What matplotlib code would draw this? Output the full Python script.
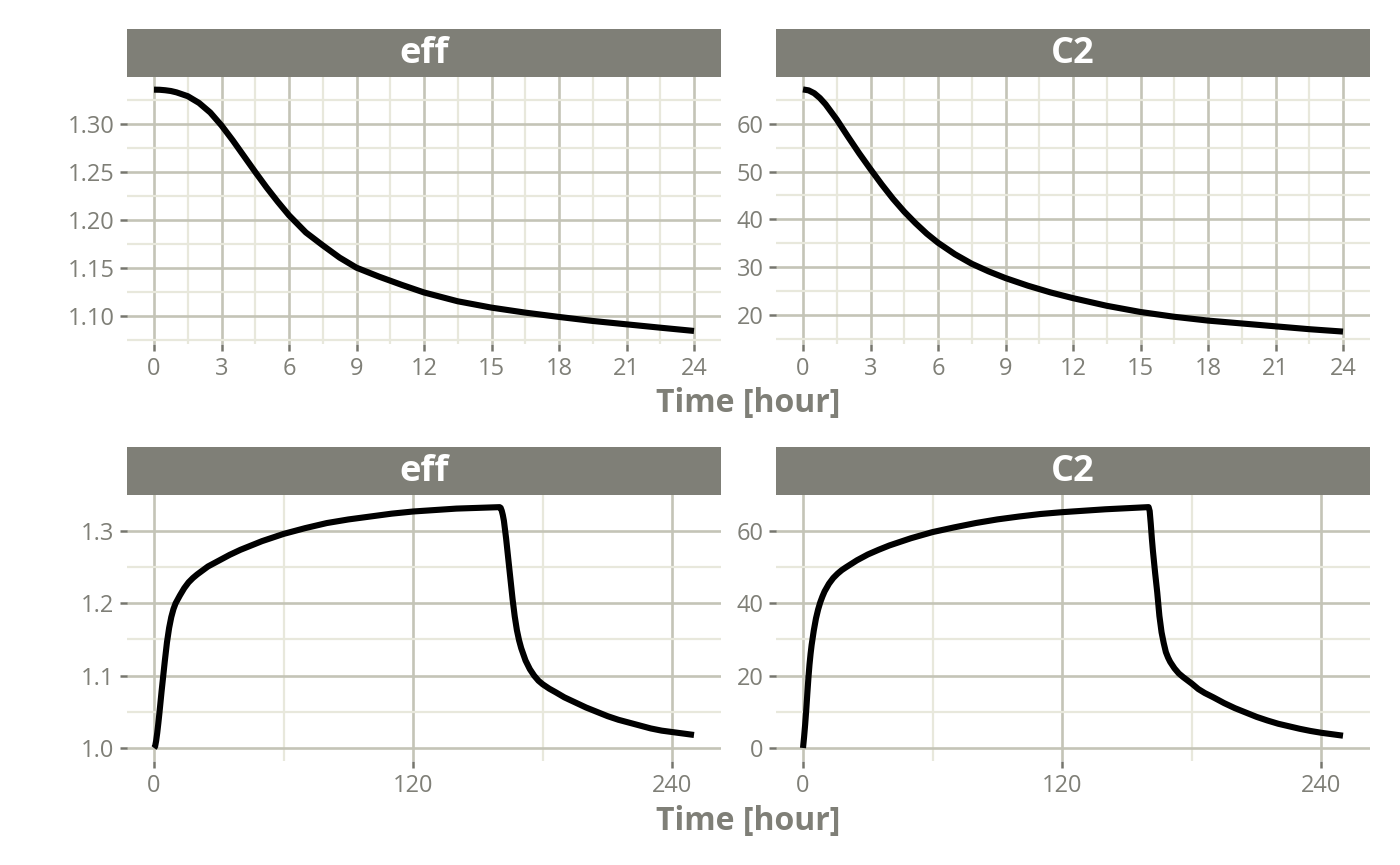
import matplotlib
matplotlib.use('Agg')
import matplotlib.pyplot as plt
from matplotlib.ticker import MultipleLocator, FormatStrFormatter

plt.rcParams['font.family'] = ['Open Sans', 'DejaVu Sans']

# top row: first day (hours)
time_day = [0, 0.25, 0.5, 0.75, 1, 1.5, 2, 2.5, 3, 3.5, 4, 4.5, 5, 5.5, 6,
            6.75, 7.5, 8.25, 9, 10, 11, 12, 13.5, 15, 16.5, 18, 19.5, 21,
            22.5, 24]
eff_day = [1.3358, 1.3357, 1.3352, 1.3344, 1.3330, 1.3290, 1.3220, 1.3120,
           1.2985, 1.2830, 1.2665, 1.2500, 1.2340, 1.2190, 1.2049, 1.1870,
           1.1736, 1.1608, 1.1503, 1.1410, 1.1325, 1.1245, 1.1153, 1.1087,
           1.1035, 1.0990, 1.0948, 1.0913, 1.0878, 1.0844]
c2_day = [67.2, 67.0, 66.4, 65.4, 64.1, 60.9, 57.3, 53.8, 50.5, 47.3, 44.3,
          41.6, 39.2, 37.0, 35.1, 32.7, 30.7, 29.1, 27.7, 26.1, 24.7, 23.5,
          21.9, 20.6, 19.6, 18.8, 18.2, 17.6, 17.0, 16.5]

# bottom row: whole run (hours)
time_run = [0, 0.5, 1, 1.5, 2, 2.5, 3, 3.5, 4, 5, 6, 7, 8, 9, 10, 12, 14, 16,
            18, 20, 25, 30, 35, 40, 50, 60, 70, 80, 90, 100, 110, 120, 130,
            140, 150, 160, 160.5, 161, 161.5, 162, 163, 164, 165, 166, 167,
            168, 169, 170, 172, 174, 176, 178, 180, 183, 186, 190, 195, 200,
            205, 210, 215, 220, 225, 230, 235, 240, 245, 250]
eff_run = [1.000, 1.002, 1.010, 1.021, 1.034, 1.048, 1.063, 1.078, 1.092,
           1.120, 1.146, 1.166, 1.181, 1.192, 1.200,
           1.211, 1.221, 1.229, 1.235, 1.240,
           1.251, 1.259, 1.267, 1.274,
           1.286, 1.296, 1.304, 1.311, 1.316, 1.320, 1.324, 1.327, 1.329,
           1.331, 1.332, 1.333,
           1.332, 1.328, 1.322, 1.314, 1.290, 1.262, 1.234, 1.206, 1.182,
           1.163, 1.149, 1.138,
           1.121, 1.109, 1.100, 1.093, 1.088,
           1.082, 1.077, 1.070, 1.063, 1.056,
           1.050, 1.044, 1.039, 1.035, 1.031, 1.027, 1.024, 1.022, 1.020, 1.018]
c2_run = [0, 3, 6.5, 10.5, 15, 19.3, 23, 26, 28.5,
          32.5, 35.8, 38.3, 40.3, 41.9, 43.3,
          45.4, 47.0, 48.2, 49.2, 50.0,
          51.9, 53.5, 54.8, 56.0,
          58.0, 59.7, 61.0, 62.2, 63.2, 64.0, 64.7, 65.2, 65.6, 66.0, 66.3, 66.6,
          65.5, 62.0, 58.0, 54.5, 48.5, 43.0, 36.5, 32.0, 29.0, 26.5, 25.0, 23.8,
          22.0, 20.6, 19.6, 18.7, 17.8,
          16.3, 15.2, 14.0, 12.4, 11.0,
          9.8, 8.6, 7.6, 6.7, 6.0, 5.3, 4.7, 4.2, 3.8, 3.4]

strip_col = '#7f7f77'
major_col = '#c4c4b7'
minor_col = '#e8e8dc'
text_col = '#7f7f77'
line_w = 4.4

W, H = 1400, 865
fig = plt.figure(figsize=(W / 100, H / 100), dpi=100)


def panel(left, right, top, bottom, label):
    # plot area plus the grey strip on top, pixel coords
    ax = fig.add_axes([left / W, 1 - bottom / H, (right - left) / W, (bottom - top) / H])
    st = fig.add_axes([left / W, 1 - top / H, (right - left) / W, 48 / H])
    st.set_facecolor(strip_col)
    st.set_xticks([])
    st.set_yticks([])
    for s in st.spines.values():
        s.set_visible(False)
    st.text(0.5, 0.47, label, ha='center', va='center', color='white',
            fontsize=26, fontweight='bold', transform=st.transAxes)
    for s in ax.spines.values():
        s.set_visible(False)
    ax.set_axisbelow(True)
    ax.grid(which='major', color=major_col, lw=1.9)
    ax.grid(which='minor', color=minor_col, lw=1.6)
    ax.tick_params(which='major', length=5, width=1.8, color='#76766e',
                   labelcolor=text_col, labelsize=17)
    ax.tick_params(axis='x', which='major', pad=4.5)
    ax.tick_params(axis='y', which='major', pad=4)
    ax.tick_params(which='minor', length=0)
    return ax


lx = (127, 721)
rx = (776, 1370)

ax1 = panel(lx[0], lx[1], 77, 344, 'eff')
ax1.plot(time_day, eff_day, color='black', lw=line_w, solid_capstyle='butt')
ax1.set_xlim(-1.2, 25.2)
ax1.set_ylim(1.0708, 1.349)
ax1.yaxis.set_major_locator(MultipleLocator(0.05))
ax1.yaxis.set_minor_locator(MultipleLocator(0.025))
ax1.yaxis.set_major_formatter(FormatStrFormatter('%.2f'))

ax2 = panel(rx[0], rx[1], 77, 344, 'C2')
ax2.plot(time_day, c2_day, color='black', lw=line_w, solid_capstyle='butt')
ax2.set_xlim(-1.2, 25.2)
ax2.set_ylim(13.9, 69.8)
ax2.yaxis.set_major_locator(MultipleLocator(10))
ax2.yaxis.set_minor_locator(MultipleLocator(5))

for ax in (ax1, ax2):
    ax.xaxis.set_major_locator(MultipleLocator(3))
    ax.xaxis.set_minor_locator(MultipleLocator(1.5))

ax3 = panel(lx[0], lx[1], 495, 761, 'eff')
ax3.plot(time_run, eff_run, color='black', lw=line_w, solid_capstyle='butt')
ax3.set_ylim(0.982, 1.3498)
ax3.yaxis.set_major_locator(MultipleLocator(0.1))
ax3.yaxis.set_minor_locator(MultipleLocator(0.05))
ax3.yaxis.set_major_formatter(FormatStrFormatter('%.1f'))

ax4 = panel(rx[0], rx[1], 495, 761, 'C2')
ax4.plot(time_run, c2_run, color='black', lw=line_w, solid_capstyle='butt')
ax4.set_ylim(-3.6, 69.95)
ax4.yaxis.set_major_locator(MultipleLocator(20))
ax4.yaxis.set_minor_locator(MultipleLocator(10))

for ax in (ax3, ax4):
    ax.set_xlim(-12.5, 262.5)
    ax.xaxis.set_major_locator(MultipleLocator(120))
    ax.xaxis.set_minor_locator(MultipleLocator(60))

# shared x titles
fig.text(748.5 / W, 1 - 404 / H, 'Time [hour]', ha='center', va='center',
         color=text_col, fontsize=23, fontweight='bold')
fig.text(748.5 / W, 1 - 822 / H, 'Time [hour]', ha='center', va='center',
         color=text_col, fontsize=23, fontweight='bold')

fig.savefig('out.png', dpi=100)
